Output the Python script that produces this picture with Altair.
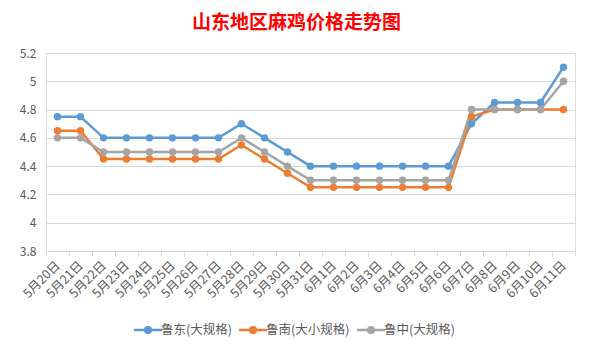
import altair as alt
import pandas as pd

dates = ["5月20日", "5月21日", "5月22日", "5月23日", "5月24日", "5月25日", "5月26日",
         "5月27日", "5月28日", "5月29日", "5月30日", "5月31日", "6月1日", "6月2日",
         "6月3日", "6月4日", "6月5日", "6月6日", "6月7日", "6月8日", "6月9日",
         "6月10日", "6月11日"]
series_names = ["鲁东(大规格)", "鲁南(大小规格)", "鲁中(大规格)"]
ludong = [4.75, 4.75, 4.6, 4.6, 4.6, 4.6, 4.6, 4.6, 4.7, 4.6, 4.5, 4.4,
          4.4, 4.4, 4.4, 4.4, 4.4, 4.4, 4.7, 4.85, 4.85, 4.85, 5.1]
lunan = [4.65, 4.65, 4.45, 4.45, 4.45, 4.45, 4.45, 4.45, 4.55, 4.45, 4.35, 4.25,
         4.25, 4.25, 4.25, 4.25, 4.25, 4.25, 4.75, 4.8, 4.8, 4.8, 4.8]
luzhong = [4.6, 4.6, 4.5, 4.5, 4.5, 4.5, 4.5, 4.5, 4.6, 4.5, 4.4, 4.3,
           4.3, 4.3, 4.3, 4.3, 4.3, 4.3, 4.8, 4.8, 4.8, 4.8, 5.0]
colors = ["#5B9BD5", "#ED7D31", "#A5A5A5"]

rows = []
for name, vals in zip(series_names, [ludong, lunan, luzhong]):
    for d, v in zip(dates, vals):
        rows.append({"date": d, "series": name, "price": v})
df = pd.DataFrame(rows)

FONT = "Noto Sans CJK SC"

chart = alt.Chart(df).mark_line(
    strokeWidth=2.5,
    point=alt.OverlayMarkDef(filled=True, size=55),
).encode(
    x=alt.X("date:N", sort=dates,
            scale=alt.Scale(type="band", paddingInner=0, paddingOuter=0),
            axis=alt.Axis(title=None, labelAngle=-45, labelAlign="right",
                          labelBaseline="middle", tickBand="extent",
                          domainColor="#D9D9D9", tickColor="#D9D9D9",
                          tickSize=5, labelColor="#595959", labelFontSize=12.5,
                          labelFont=FONT, labelPadding=7, grid=False)),
    y=alt.Y("price:Q",
            scale=alt.Scale(domain=[3.8, 5.2], nice=False, zero=False),
            axis=alt.Axis(title=None, values=[3.8, 4.0, 4.2, 4.4, 4.6, 4.8, 5.0, 5.2],
                          format="~g", domain=False, ticks=False,
                          gridColor="#D9D9D9", labelColor="#595959",
                          labelFontSize=12, labelFont=FONT, labelPadding=10)),
    color=alt.Color("series:N", sort=series_names,
                    scale=alt.Scale(domain=series_names, range=colors),
                    legend=alt.Legend(title=None, orient="none", direction="horizontal",
                                      legendX=91, legendY=266,
                                      symbolType="M-1.5,0L1.5,0M-0.3,0A0.3,0.3,0,1,1,0.3,0A0.3,0.3,0,1,1,-0.3,0Z",
                                      symbolSize=350, symbolStrokeWidth=2.5,
                                      labelFont=FONT, labelFontSize=12.5,
                                      labelColor="#595959", columnPadding=1,
                                      symbolOffset=0, labelOffset=2)),
).properties(
    width=529,
    height=198,
    title=alt.TitleParams("山东地区麻鸡价格走势图", color="#FF0000", fontSize=19,
                          font=FONT, fontWeight="bold", anchor="middle",
                          dx=-14, offset=14),
    autosize=alt.AutoSizeParams(type="none"),
    padding={"left": 46, "top": 53, "right": 16, "bottom": 100},
).configure_view(stroke=None).configure(background="white")

chart.save("out.html", embed_options={"renderer": "svg", "actions": False})
